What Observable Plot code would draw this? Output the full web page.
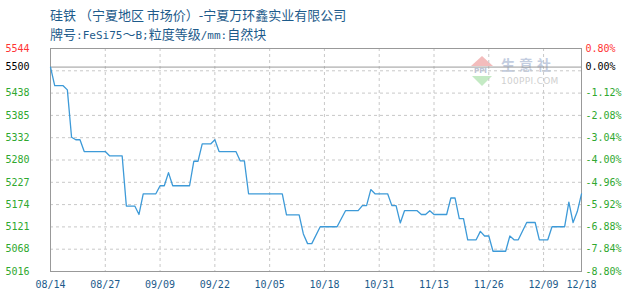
<!DOCTYPE html>
<html>
<head>
<meta charset="utf-8">
<script src="https://cdn.jsdelivr.net/npm/d3@7"></script>
<script src="https://cdn.jsdelivr.net/npm/@observablehq/plot@0.6"></script>
<style>
  body { margin: 0; background: #fff; }
  #wrap { position: relative; width: 630px; height: 300px; overflow: hidden; background: #fff; }
  .title { position: absolute; left: 50px; font-family: "Noto Sans CJK SC", sans-serif; font-size: 13px; line-height: 13px; color: #1d5b8b; white-space: nowrap; }
  .title .m { font-family: "DejaVu Sans Mono", monospace; font-size: 11px; }
  #t1 { top: 8px; }
  #t2 { top: 27px; }
  #wm { position: absolute; left: 471px; top: 56px; width: 100px; height: 32px; z-index: 0; }
  #wm .up { position: absolute; left: 0; top: 0; width: 0; height: 0; border-left: 11px solid transparent; border-right: 11px solid transparent; border-bottom: 10px solid #f3bcbc; }
  #wm .mid { position: absolute; left: 3px; top: 11px; font-family: "DejaVu Sans", sans-serif; font-size: 7px; font-weight: bold; color: #b9c2d6; }
  #wm .dn { position: absolute; left: 1px; top: 20px; width: 0; height: 0; border-left: 10px solid transparent; border-right: 10px solid transparent; border-top: 10px solid #c4eac4; }
  #wm .cn { position: absolute; left: 30px; top: -2px; font-family: "Noto Sans CJK SC", sans-serif; font-size: 14px; font-weight: bold; color: #c3cde0; letter-spacing: 4px; }
  #wm .en { position: absolute; left: 30px; top: 20px; font-family: "DejaVu Sans", sans-serif; font-size: 9px; color: #cfcfcf; letter-spacing: 0.3px; }
  #chart { position: absolute; left: 0; top: 0; z-index: 1; }
</style>
</head>
<body>
<div id="wrap">
  <div id="t1" class="title">硅铁 （宁夏地区 市场价）-宁夏万环鑫实业有限公司</div>
  <div id="t2" class="title">牌号<span class="m">:FeSi75</span>～<span class="m">B;</span>粒度等级<span class="m">/mm:</span>自然块</div>
  <div id="wm"><div class="up"></div><div class="mid">PPI</div><div class="dn"></div><div class="cn">生意社</div><div class="en">100PPI.COM</div></div>
  <div id="chart"></div>
</div>
<script>
// ---- data ----
const dates = ["2018-08-14","2018-08-15","2018-08-17","2018-08-18","2018-08-19","2018-08-20","2018-08-21","2018-08-22","2018-08-27","2018-08-28","2018-08-31","2018-09-01","2018-09-03","2018-09-04","2018-09-05","2018-09-08","2018-09-09","2018-09-10","2018-09-11","2018-09-12","2018-09-16","2018-09-17","2018-09-18","2018-09-19","2018-09-21","2018-09-22","2018-09-23","2018-09-27","2018-09-28","2018-09-29","2018-09-30","2018-10-08","2018-10-09","2018-10-12","2018-10-13","2018-10-14","2018-10-15","2018-10-17","2018-10-21","2018-10-23","2018-10-26","2018-10-27","2018-10-28","2018-10-29","2018-10-30","2018-11-02","2018-11-03","2018-11-04","2018-11-05","2018-11-06","2018-11-09","2018-11-10","2018-11-11","2018-11-12","2018-11-13","2018-11-16","2018-11-17","2018-11-18","2018-11-19","2018-11-20","2018-11-21","2018-11-23","2018-11-24","2018-11-25","2018-11-26","2018-11-27","2018-11-30","2018-12-01","2018-12-02","2018-12-03","2018-12-05","2018-12-07","2018-12-08","2018-12-10","2018-12-11","2018-12-14","2018-12-15","2018-12-16","2018-12-17","2018-12-18"];
const prices = [5500,5456,5456,5446,5334,5328,5328,5300,5300,5290,5290,5171,5171,5151,5200,5200,5219,5219,5250,5219,5219,5277,5277,5318,5318,5328,5300,5300,5278,5278,5200,5200,5150,5150,5105,5082,5082,5122,5122,5160,5160,5172,5172,5210,5200,5200,5172,5172,5131,5160,5160,5151,5151,5160,5151,5151,5190,5190,5141,5141,5091,5091,5111,5100,5100,5064,5064,5100,5091,5091,5132,5132,5091,5091,5122,5122,5180,5132,5158,5200];

const xTickDates = ["2018-08-14","2018-08-27","2018-09-09","2018-09-22","2018-10-05","2018-10-18","2018-10-31","2018-11-13","2018-11-26","2018-12-09","2018-12-18"];
const xTickLabels = ["08/14","08/27","09/09","09/22","10/05","10/18","10/31","11/13","11/26","12/09","12/18"];

const basePrice = 5500;
const yMin = 5016, yMax = 5544;
const gridValues = [5068.8, 5121.6, 5174.4, 5227.2, 5280, 5332.8, 5385.6, 5438.4, 5491.2];
const yLabelValues = [5016, 5068.8, 5121.6, 5174.4, 5227.2, 5280, 5332.8, 5385.6, 5438.4, 5500, 5544];
const leftLabels = ["5016","5068","5121","5174","5227","5280","5332","5385","5438","5500","5544"];
const rightLabels = ["-8.80%","-7.84%","-6.88%","-5.92%","-4.96%","-4.00%","-3.04%","-2.08%","-1.12%","0.00%","0.80%"];

// ---- build ----
const parse = d3.utcParse("%Y-%m-%d");
const series = dates.map((d, i) => ({date: parse(d), price: prices[i]}));
const xticks = xTickDates.map((d, i) => ({date: parse(d), label: xTickLabels[i]}));
const ylabels = yLabelValues.map((v, i) => ({
  v, left: leftLabels[i], right: rightLabels[i],
  color: v === yMax ? "#ff3333" : v === basePrice ? "#000000" : "#2fa82f"
}));

const chart = Plot.plot({
  width: 630,
  height: 300,
  marginTop: 48,
  marginRight: 49,
  marginBottom: 29,
  marginLeft: 50,
  style: {background: "transparent", fontFamily: "'DejaVu Sans Mono', monospace", fontSize: "10px", overflow: "visible"},
  x: {type: "utc", domain: [parse(xTickDates[0]), parse(xTickDates[xTickDates.length - 1])], axis: null},
  y: {domain: [yMin, yMax], axis: null},
  color: {type: "identity"},
  marks: [
    Plot.ruleY(gridValues, {stroke: "#c8c8c8", strokeDasharray: "3,3", strokeWidth: 1}),
    Plot.ruleX(xticks.slice(1, -1), {x: "date", stroke: "#c8c8c8", strokeDasharray: "3,3", strokeWidth: 1}),
    Plot.ruleY([basePrice], {stroke: "#999999", strokeWidth: 1}),
    Plot.frame({stroke: "#999999", strokeWidth: 1}),
    Plot.line(series, {x: "date", y: "price", stroke: "#3d9ad8", strokeWidth: 1.3}),
    Plot.text(ylabels, {y: "v", text: "left", fill: "color", frameAnchor: "left", textAnchor: "start", dx: -45}),
    Plot.text(ylabels, {y: "v", text: "right", fill: "color", frameAnchor: "right", textAnchor: "start", dx: 4}),
    Plot.text(xticks, {x: "date", text: "label", fill: "#1d5b8b", frameAnchor: "bottom", dy: 16})
  ]
});
document.getElementById("chart").appendChild(chart);
</script>
</body>
</html>
